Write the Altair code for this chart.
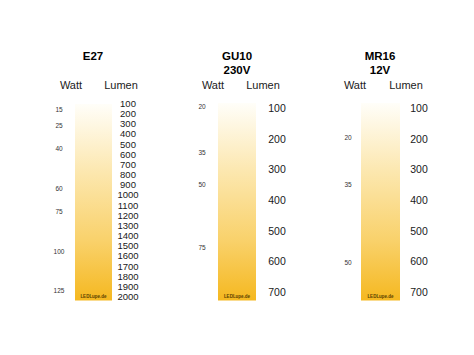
import altair as alt
import pandas as pd

# ---------------- data ----------------
panels = ["E27", "GU10", "MR16"]
subtitles = ["", "230V", "12V"]
headers = ["Watt", "Lumen"]
logo_text = "LEDLupe.de"

e27_lumen = [100, 200, 300, 400, 500, 600, 700, 800, 900, 1000,
             1100, 1200, 1300, 1400, 1500, 1600, 1700, 1800, 1900, 2000]
e27_watt = [15, 25, 40, 60, 75, 100, 125]
e27_watt_lumen = [160, 315, 545, 935, 1165, 1555, 1940]

gu10_lumen = [100, 200, 300, 400, 500, 600, 700]
gu10_watt = [20, 35, 50, 75]
gu10_watt_lumen = [93, 243, 348, 553]

mr16_lumen = [100, 200, 300, 400, 500, 600, 700]
mr16_watt = [20, 35, 50]
mr16_watt_lumen = [195, 348, 602]

# ---------------- layout ----------------
W, H = 152, 339
FONT = "Liberation Sans"

layouts = [
    dict(py_lo=96, py_hi=289, top_off=0, bot_off=3.5, bx0=67, bx1=104,
         wx=51, lx=120, hwx=63, hlx=113, tx=85, lfs=9.5),
    dict(py_lo=101, py_hi=285, top_off=-6, bot_off=7.5, bx0=58, bx1=96,
         wx=42, lx=117, hwx=53, hlx=103, tx=77, lfs=10.5),
    dict(py_lo=101, py_hi=285, top_off=-6, bot_off=7.5, bx0=49, bx1=88,
         wx=36, lx=107, hwx=43, hlx=94, tx=68, lfs=10.5),
]

gradient = alt.LinearGradient(
    gradient="linear",
    stops=[
        alt.GradientStop(color="#FFFEF9", offset=0),
        alt.GradientStop(color="#FCE7AE", offset=0.35),
        alt.GradientStop(color="#F9D16A", offset=0.7),
        alt.GradientStop(color="#F5B820", offset=1),
    ],
    x1=0, x2=0, y1=0, y2=1,
)


def make_panel(name, sub, lumen, watt, watt_lm, lay):
    lo, hi = lumen[0], lumen[-1]
    slope = (lay["py_hi"] - lay["py_lo"]) / (hi - lo)
    d0 = lo - lay["py_lo"] / slope
    d1 = d0 + H / slope
    sc = alt.Scale(domain=[d0, d1], reverse=True, nice=False, zero=False)

    bar_df = pd.DataFrame({"lo": [lo], "hi": [hi]})
    bar = alt.Chart(bar_df).mark_rect(
        color=gradient, yOffset=lay["top_off"], y2Offset=lay["bot_off"]
    ).encode(
        y=alt.Y("lo:Q", scale=sc, axis=None),
        y2="hi:Q",
        x=alt.value(lay["bx0"]),
        x2=alt.value(lay["bx1"]),
    )

    logo = alt.Chart(bar_df).mark_text(
        text=logo_text, font=FONT, fontSize=4.5, fontWeight="bold",
        color="#5a3f00", baseline="middle", align="center",
        dy=lay["bot_off"] - 4,
    ).encode(
        y=alt.Y("hi:Q", scale=sc, axis=None),
        x=alt.value((lay["bx0"] + lay["bx1"]) / 2),
    )

    lum_df = pd.DataFrame({"lm": lumen})
    lum = alt.Chart(lum_df).mark_text(
        font=FONT, fontSize=lay["lfs"], color="#1a1a1a",
        align="center", baseline="middle",
    ).encode(
        y=alt.Y("lm:Q", scale=sc, axis=None),
        x=alt.value(lay["lx"]),
        text=alt.Text("lm:Q", format="d"),
    )

    w_df = pd.DataFrame({"w": watt, "pos": watt_lm})
    wl = alt.Chart(w_df).mark_text(
        font=FONT, fontSize=6.5, color="#333333",
        align="center", baseline="middle",
    ).encode(
        y=alt.Y("pos:Q", scale=sc, axis=None),
        x=alt.value(lay["wx"]),
        text=alt.Text("w:Q", format="d"),
    )

    t_df = pd.DataFrame({"t": [name]})
    title = alt.Chart(t_df).mark_text(
        font=FONT, fontSize=11.5, fontWeight="bold", color="#000000",
        align="center", baseline="middle",
    ).encode(x=alt.value(lay["tx"]), y=alt.value(49), text="t:N")

    layers = [bar, logo, lum, wl, title]
    if sub:
        s_df = pd.DataFrame({"t": [sub]})
        layers.append(alt.Chart(s_df).mark_text(
            font=FONT, fontSize=11.5, fontWeight="bold", color="#000000",
            align="center", baseline="middle",
        ).encode(x=alt.value(lay["tx"]), y=alt.value(63), text="t:N"))

    hw = alt.Chart(pd.DataFrame({"t": [headers[0]]})).mark_text(
        font=FONT, fontSize=11, color="#1a1a1a", align="center", baseline="middle",
    ).encode(x=alt.value(lay["hwx"]), y=alt.value(78), text="t:N")
    hl = alt.Chart(pd.DataFrame({"t": [headers[1]]})).mark_text(
        font=FONT, fontSize=11, color="#1a1a1a", align="center", baseline="middle",
    ).encode(x=alt.value(lay["hlx"]), y=alt.value(78), text="t:N")
    layers += [hw, hl]

    return alt.layer(*layers).properties(width=W, height=H)


p0 = make_panel(panels[0], subtitles[0], e27_lumen, e27_watt, e27_watt_lumen, layouts[0])
p1 = make_panel(panels[1], subtitles[1], gu10_lumen, gu10_watt, gu10_watt_lumen, layouts[1])
p2 = make_panel(panels[2], subtitles[2], mr16_lumen, mr16_watt, mr16_watt_lumen, layouts[2])

chart = alt.hconcat(p0, p1, p2, spacing=0).properties(
    padding=0, background="#ffffff"
).configure_view(strokeWidth=0)

chart.save("out.html", embed_options={"renderer": "svg", "actions": False})
